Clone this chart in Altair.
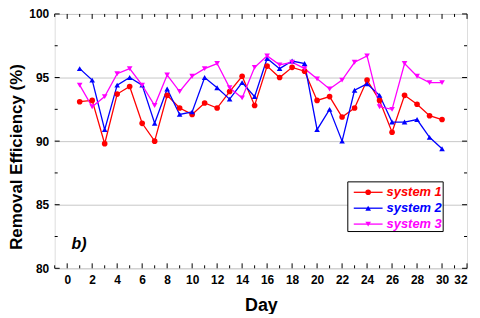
import altair as alt
import pandas as pd

days = list(range(1, 31))
system1 = [93.1, 93.2, 89.8, 93.7, 94.3, 91.4, 90.0, 93.6, 92.6, 92.1,
           93.0, 92.6, 93.9, 95.1, 92.8, 95.9, 95.0, 95.8, 95.5, 93.2,
           93.5, 91.9, 92.6, 94.8, 93.2, 90.7, 93.6, 92.9, 92.0, 91.7]
system2 = [95.7, 94.8, 90.9, 94.4, 95.0, 94.4, 91.4, 94.1, 92.1, 92.3,
           95.0, 94.2, 93.3, 94.6, 93.5, 96.5, 95.7, 96.3, 96.1, 90.9,
           92.5, 90.0, 94.0, 94.5, 93.6, 91.5, 91.5, 91.7, 90.3, 89.4]
system3 = [94.4, 92.7, 93.5, 95.3, 95.7, 94.4, 92.8, 95.2, 93.9, 95.1,
           95.7, 96.1, 94.2, 93.4, 95.8, 96.7, 96.0, 96.2, 95.7, 94.9,
           94.1, 94.8, 96.2, 96.7, 92.7, 92.5, 96.1, 95.1, 94.6, 94.6]
series_names = ["system 1", "system 2", "system 3"]
colors = ["#FF0000", "#0000FF", "#FF00FF"]
shapes = ["circle", "triangle-up", "triangle-down"]

x_major = list(range(0, 33, 2))
x_minor = list(range(-1, 33, 2))
y_major = [80, 85, 90, 95, 100]
y_minor = [82.5, 87.5, 92.5, 97.5]

rows = []
for name, vals in zip(series_names, [system1, system2, system3]):
    for d, v in zip(days, vals):
        rows.append({"day": d, "value": v, "series": name})
df = pd.DataFrame(rows)

W, H = 415, 256
FONT = "Liberation Sans"

xscale = alt.Scale(domain=[-1, 32], nice=False, zero=False)
yscale = alt.Scale(domain=[80, 100], nice=False, zero=False)
cscale = alt.Scale(domain=series_names, range=colors)
sscale = alt.Scale(domain=series_names, range=shapes)

xaxis = alt.Axis(values=x_major, title="Day", ticks=False, domain=False,
                 grid=False, labelPadding=6, labelOverlap=False, labelFont=FONT,
                 labelFontSize=12, labelFontWeight="bold", labelColor="black",
                 titleFont=FONT, titleFontSize=18, titleFontWeight="bold",
                 titleColor="black", titleBaseline="alphabetic", titleY=42)
yaxis = alt.Axis(values=y_major, title=None, ticks=False,
                 domain=False, grid=True, gridColor="#c8c8c8", gridWidth=1,
                 labelPadding=6, labelOverlap=False, labelFont=FONT, labelFontSize=12,
                 labelFontWeight="bold", labelColor="black")

def X(f):
    return alt.X(f, scale=xscale, axis=xaxis)

def Y(f):
    return alt.Y(f, scale=yscale, axis=yaxis)

lines = alt.Chart(df).mark_line(strokeWidth=1.3).encode(
    x=X("day:Q"), y=Y("value:Q"),
    color=alt.Color("series:N", scale=cscale, legend=None),
)

points = alt.Chart(df).mark_point(filled=True, size=32, opacity=1).encode(
    x=X("day:Q"), y=Y("value:Q"),
    color=alt.Color("series:N", scale=cscale, legend=None),
    shape=alt.Shape("series:N", scale=sscale, legend=None),
)

def xticks(vals, length):
    d = pd.DataFrame({"t": vals})
    b = alt.Chart(d).mark_rule(color="black", strokeWidth=1)
    return [
        b.encode(x=X("t:Q"), y=alt.value(H), y2=alt.value(H - length)),
        b.encode(x=X("t:Q"), y=alt.value(0), y2=alt.value(length)),
    ]

def yticks(vals, length):
    d = pd.DataFrame({"t": vals})
    b = alt.Chart(d).mark_rule(color="black", strokeWidth=1)
    return [
        b.encode(y=Y("t:Q"), x=alt.value(0), x2=alt.value(length)),
        b.encode(y=Y("t:Q"), x=alt.value(W), x2=alt.value(W - length)),
    ]

ticks = xticks(x_major, 5) + xticks(x_minor, 3) + yticks(y_major, 5) + yticks(y_minor, 3)

one = pd.DataFrame({"a": [0]})

y_title = alt.Chart(one).mark_text(
    text="Removal Efficiency (%)", font=FONT, fontSize=17, fontWeight="bold",
    color="black", angle=270, align="center", baseline="middle").encode(
    x=alt.value(-38), y=alt.value(144))

legend_layers = [
    alt.Chart(one).mark_rect(fill="white", stroke="black", strokeWidth=1).encode(
        x=alt.value(295), x2=alt.value(391), y=alt.value(169), y2=alt.value(219))
]
for i, (name, col, shp) in enumerate(zip(series_names, colors, shapes)):
    yy = 179.5 + i * 16
    legend_layers.append(alt.Chart(one).mark_rule(color=col, strokeWidth=1.3).encode(
        x=alt.value(301), x2=alt.value(330), y=alt.value(yy)))
    legend_layers.append(alt.Chart(one).mark_point(filled=True, size=32, opacity=1,
                                                   color=col, shape=shp).encode(
        x=alt.value(315.5), y=alt.value(yy)))
    legend_layers.append(alt.Chart(one).mark_text(
        text=name, color=col, font=FONT, fontSize=13, fontWeight="bold",
        fontStyle="italic", align="left", baseline="middle").encode(
        x=alt.value(334), y=alt.value(yy)))

label_b = alt.Chart(one).mark_text(
    text="b)", font=FONT, fontSize=16, fontWeight="bold", fontStyle="italic",
    align="left", baseline="middle", color="black").encode(
    x=alt.value(17), y=alt.value(232))

chart = alt.layer(lines, points, *ticks, *legend_layers, label_b, y_title).properties(
    width=W, height=H,
    autosize=alt.AutoSizeParams(type="none"),
    padding={"left": 47, "top": 5, "right": 5, "bottom": 45},
).configure_view(stroke="black", strokeWidth=1.5).configure(background="white")

chart.save("out.html", embed_options={"renderer": "svg", "actions": False})
